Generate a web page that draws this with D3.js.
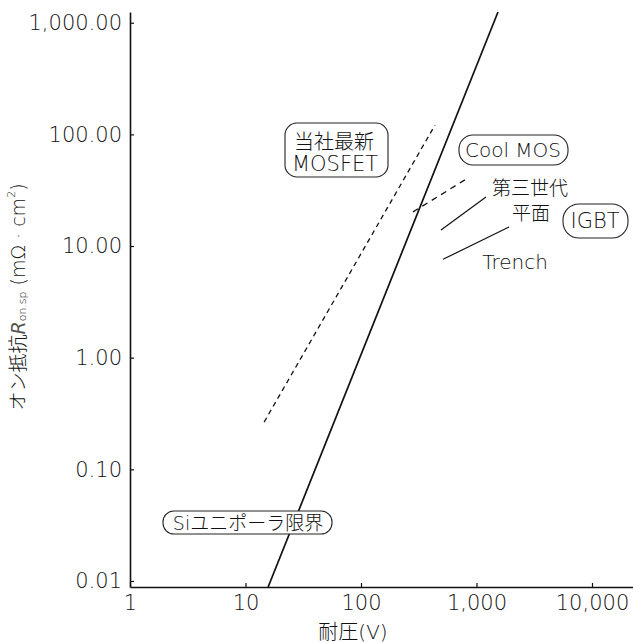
<!DOCTYPE html>
<html>
<head>
<meta charset="utf-8">
<script src="https://cdn.jsdelivr.net/npm/d3@7"></script>
<style>
  html, body { margin: 0; padding: 0; background: #fff; }
  svg { display: block; }
  text { font-family: "DejaVu Sans", "Noto Sans CJK JP", sans-serif; font-weight: 200; fill: #111; }
</style>
</head>
<body>
<svg id="chart" width="633" height="643"></svg>
<script>
// Axis ticks
const xTicks = [1, 10, 100, 1000, 10000];
const xTickLabels = ["1", "10", "100", "1,000", "10,000"];
const yTicks = [0.01, 0.1, 1, 10, 100, 1000];
const yTickLabels = ["0.01", "0.10", "1.00", "10.00", "100.00", "1,000.00"];

// Series: [breakdown voltage (V), specific on-resistance (mΩ·cm²)]
const siLimit = [[15.7, 0.00883], [1535, 1247]];
const mosfetLatest = [[14.5, 0.265], [437, 121]];
const coolMOS = [[282, 20.2], [844, 40.7]];
const planarGen3 = [[493, 13.9], [1208, 27.5]];
const trench = [[513, 7.6], [1911, 14.8]];

const svg = d3.select("#chart");

// Log-log scales (axes run a little past the last labelled decade)
const x = d3.scaleLog().domain([1, Math.pow(10, 4.355)]).range([130, 633]);
const y = d3.scaleLog().domain([Math.pow(10, -2.054), Math.pow(10, 3.096)]).range([587, 12]);

// Axes with short inward ticks
const xAxis = d3.axisBottom(x).tickValues(xTicks)
  .tickFormat((d, i) => xTickLabels[i]).tickSizeInner(-4).tickSizeOuter(0).tickPadding(8);
const yAxis = d3.axisLeft(y).tickValues(yTicks)
  .tickFormat((d, i) => yTickLabels[i]).tickSizeInner(-4).tickSizeOuter(0).tickPadding(8);

const gx = svg.append("g").attr("transform", "translate(0,587)").call(xAxis);
const gy = svg.append("g").attr("transform", "translate(130,0)").call(yAxis);
[gx, gy].forEach(g => {
  g.attr("font-family", null).attr("font-size", null);
  g.select(".domain").attr("stroke", "#111").attr("stroke-width", 1.6);
  g.selectAll(".tick line").attr("stroke", "#111").attr("stroke-width", 1.2);
  g.selectAll(".tick text").attr("font-size", 21).attr("fill", "#111");
});

// Plot-area clip
svg.append("clipPath").attr("id", "plot").append("rect")
  .attr("x", 130).attr("y", 0).attr("width", 503).attr("height", 587);

const line = d3.line().x(d => x(d[0])).y(d => y(d[1]));
const plot = svg.append("g").attr("clip-path", "url(#plot)");

const series = [
  { data: siLimit, width: 1.7, dash: null },
  { data: mosfetLatest, width: 1.3, dash: "5,4" },
  { data: coolMOS, width: 1.3, dash: "6,5" },
  { data: planarGen3, width: 1.2, dash: null },
  { data: trench, width: 1.2, dash: null }
];
plot.selectAll("path.series").data(series).join("path")
  .attr("class", "series")
  .attr("d", d => line(d.data))
  .attr("fill", "none")
  .attr("stroke", "#111")
  .attr("stroke-width", d => d.width)
  .attr("stroke-dasharray", d => d.dash);

// Rounded label boxes
const boxes = [
  { x: 285, y: 123, w: 103, h: 54, r: 12 },
  { x: 459, y: 135, w: 109, h: 30, r: 14 },
  { x: 563, y: 204, w: 65, h: 34, r: 16 },
  { x: 163, y: 511, w: 169, h: 23, r: 11 }
];
svg.selectAll("rect.box").data(boxes).join("rect")
  .attr("class", "box")
  .attr("x", d => d.x).attr("y", d => d.y)
  .attr("width", d => d.w).attr("height", d => d.h)
  .attr("rx", d => d.r).attr("ry", d => d.r)
  .attr("fill", "#fff").attr("stroke", "#222").attr("stroke-width", 1.1);

const labels = [
  { t: "当社最新", x: 334, y: 142, s: 20 },
  { t: "MOSFET", x: 335, y: 164, s: 21 },
  { t: "Cool MOS", x: 513, y: 150, s: 20 },
  { t: "第三世代", x: 530, y: 188, s: 19 },
  { t: "平面", x: 531, y: 213, s: 19 },
  { t: "IGBT", x: 595, y: 221, s: 21 },
  { t: "Trench", x: 515, y: 262, s: 20 },
  { t: "Siユニポーラ限界", x: 248, y: 523, s: 19 }
];
svg.selectAll("text.lab").data(labels).join("text")
  .attr("class", "lab")
  .attr("x", d => d.x).attr("y", d => d.y)
  .attr("text-anchor", "middle").attr("dominant-baseline", "central")
  .attr("font-size", d => d.s)
  .text(d => d.t);

// Axis titles
svg.append("text")
  .attr("x", 353).attr("y", 632)
  .attr("text-anchor", "middle").attr("dominant-baseline", "central")
  .attr("font-size", 20)
  .text("耐圧(V)");

const yt = svg.append("text")
  .attr("transform", "translate(18,297) rotate(-90)")
  .attr("text-anchor", "middle").attr("dominant-baseline", "central")
  .attr("font-size", 19);
yt.append("tspan").text("オン抵抗");
yt.append("tspan").attr("font-style", "italic").style("font-weight", 400).attr("fill", "#555").text("R");
yt.append("tspan").attr("font-size", 11).attr("dy", 4).text("on.sp");
yt.append("tspan").attr("dy", -4).text(" (mΩ · cm");
yt.append("tspan").attr("font-size", 11).attr("dy", -7).text("2");
yt.append("tspan").attr("dy", 7).text(")");
</script>
</body>
</html>
